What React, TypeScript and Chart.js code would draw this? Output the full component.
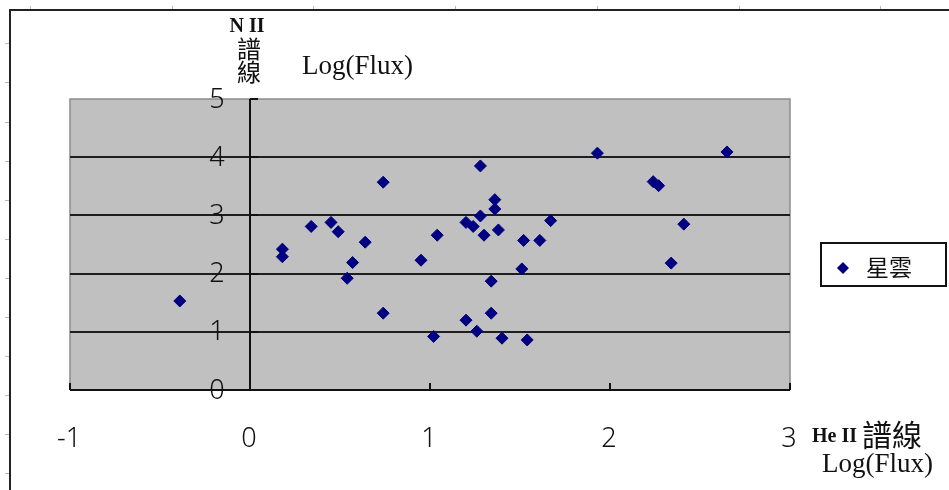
import React, { useEffect, useRef } from 'react';
import { Chart, registerables } from 'chart.js';

Chart.register(...registerables);

// He II line log flux (x) against N II line log flux (y), one entry per nebula
const heIIFlux = [
  -0.39, 0.18, 0.18, 0.34, 0.45, 0.49, 0.64, 0.57, 0.54, 0.74,
  0.74, 0.95, 1.02, 1.04, 1.2, 1.26, 1.28, 1.36, 1.36, 1.28,
  1.2, 1.24, 1.3, 1.38, 1.52, 1.61, 1.67, 1.51, 1.34, 1.34,
  1.4, 1.54, 1.93, 2.24, 2.27, 2.41, 2.34, 2.65,
];
const nIIFlux = [
  1.53, 2.42, 2.29, 2.81, 2.88, 2.72, 2.54, 2.19, 1.92, 3.57,
  1.32, 2.23, 0.92, 2.66, 1.2, 1.01, 3.85, 3.27, 3.11, 2.99,
  2.88, 2.81, 2.66, 2.75, 2.57, 2.57, 2.91, 2.08, 1.87, 1.32,
  0.89, 0.86, 4.07, 3.58, 3.51, 2.85, 2.18, 4.09,
];
const xTickValues = [-1, 0, 1, 2, 3];
const yTickValues = [0, 1, 2, 3, 4, 5];
const seriesName = '星雲';
const yTitleLines = ['N II', '譜', '線'];
const xTitle = ['He II', '譜線'];
const fluxUnit = 'Log(Flux)';

const MARK = '#000080';
const SANS = '"Noto Sans", "DejaVu Sans", sans-serif';
const SERIF = '"Liberation Serif", "DejaVu Serif", serif';
const CJK = '"Noto Sans CJK TC", "Noto Sans CJK SC", sans-serif';

const decorPlugin = {
  id: 'decor',
  beforeDraw(chart: any) {
    const { ctx, chartArea: a, width, height } = chart;
    ctx.save();
    ctx.fillStyle = '#ffffff';
    ctx.fillRect(0, 0, width, height);

    // ruler marks around the embedded object
    ctx.strokeStyle = '#b8b8b8';
    ctx.lineWidth = 1;
    for (let i = 0; i < 7; i++) {
      const x = Math.round(30 + i * 141.7) + 0.5;
      ctx.beginPath();
      ctx.moveTo(x, 6);
      ctx.lineTo(x, 10);
      ctx.stroke();
    }
    for (let i = 0; i < 12; i++) {
      const y = Math.round(43.3 + i * 39.1) + 0.5;
      ctx.beginPath();
      ctx.moveTo(5, y);
      ctx.lineTo(9, y);
      ctx.stroke();
    }
    // object frame
    ctx.strokeStyle = '#222';
    ctx.lineWidth = 2;
    ctx.beginPath();
    ctx.moveTo(width, 10);
    ctx.lineTo(10, 10);
    ctx.lineTo(10, height);
    ctx.stroke();

    // plot area
    ctx.fillStyle = '#c0c0c0';
    ctx.fillRect(a.left, a.top, a.right - a.left, a.bottom - a.top);
    ctx.strokeStyle = '#8c8c8c';
    ctx.lineWidth = 1.5;
    ctx.beginPath();
    ctx.moveTo(a.left, a.bottom);
    ctx.lineTo(a.left, a.top);
    ctx.lineTo(a.right, a.top);
    ctx.lineTo(a.right, a.bottom);
    ctx.stroke();
    ctx.restore();
  },
  beforeDatasetsDraw(chart: any) {
    const { ctx, chartArea: a, scales } = chart;
    const xs = scales.x;
    const ys = scales.y;
    const x0 = Math.round(xs.getPixelForValue(0));
    const y0 = Math.round(ys.getPixelForValue(0));
    ctx.save();
    ctx.strokeStyle = '#111';
    ctx.lineWidth = 2;
    ctx.beginPath();
    ctx.moveTo(a.left, y0);
    ctx.lineTo(a.right, y0);
    ctx.moveTo(x0, a.top);
    ctx.lineTo(x0, a.bottom);
    ctx.stroke();
    // inside tick marks
    for (const v of xTickValues) {
      const x = Math.round(xs.getPixelForValue(v));
      ctx.beginPath();
      ctx.moveTo(x, y0);
      ctx.lineTo(x, y0 - 7);
      ctx.stroke();
    }
    for (const v of yTickValues) {
      const y = Math.round(ys.getPixelForValue(v));
      ctx.beginPath();
      ctx.moveTo(x0, y);
      ctx.lineTo(x0 + 8, y);
      ctx.stroke();
    }
    ctx.restore();
  },
  afterDraw(chart: any) {
    const { ctx, scales } = chart;
    const xs = scales.x;
    const ys = scales.y;
    const x0 = xs.getPixelForValue(0);
    ctx.save();
    ctx.fillStyle = '#111';

    // tick labels
    ctx.font = `300 27px ${SANS}`;
    ctx.textBaseline = 'middle';
    ctx.textAlign = 'center';
    for (const v of yTickValues) {
      ctx.fillText(String(v), x0 - 33, ys.getPixelForValue(v) + 1);
    }
    for (const v of xTickValues) {
      ctx.fillText(String(v), xs.getPixelForValue(v) - 1, 439);
    }

    // y title
    ctx.textBaseline = 'alphabetic';
    ctx.font = `bold 20px ${SERIF}`;
    ctx.fillText(yTitleLines[0], x0 - 3, 32);
    ctx.font = `24px ${CJK}`;
    ctx.textBaseline = 'middle';
    ctx.fillText(yTitleLines[1], x0 - 1, 49);
    ctx.fillText(yTitleLines[2], x0 - 1, 72);
    ctx.textBaseline = 'alphabetic';
    ctx.textAlign = 'left';
    ctx.font = `27px ${SERIF}`;
    ctx.fillText(fluxUnit, 302, 74);

    // x title
    ctx.font = `bold 20px ${SERIF}`;
    ctx.fillText(xTitle[0], 812, 442);
    ctx.font = `30px ${CJK}`;
    ctx.textBaseline = 'middle';
    ctx.fillText(xTitle[1], 862, 435);
    ctx.textBaseline = 'alphabetic';
    ctx.font = `27px ${SERIF}`;
    ctx.fillText(fluxUnit, 822, 472);

    // legend
    const lx = 820, ly = 242, lw = 127, lh = 45;
    ctx.fillStyle = '#ffffff';
    ctx.fillRect(lx, ly, lw, lh);
    ctx.strokeStyle = '#111';
    ctx.lineWidth = 2;
    ctx.strokeRect(lx + 1, ly + 1, lw - 2, lh - 2);
    ctx.fillStyle = MARK;
    ctx.beginPath();
    const cx = 843, cy = 268, r = 6;
    ctx.moveTo(cx - r, cy);
    ctx.lineTo(cx, cy - r);
    ctx.lineTo(cx + r, cy);
    ctx.lineTo(cx, cy + r);
    ctx.closePath();
    ctx.fill();
    ctx.fillStyle = '#111';
    ctx.font = `23px ${CJK}`;
    ctx.textBaseline = 'middle';
    ctx.fillText(seriesName, 866, 267);
    ctx.restore();
  },
};

export default function App() {
  const canvasRef = useRef<HTMLCanvasElement | null>(null);

  useEffect(() => {
    const canvas = canvasRef.current;
    if (!canvas) return;
    const points = heIIFlux.map((x, i) => ({ x, y: nIIFlux[i] }));
    const chart = new Chart(canvas, {
      type: 'scatter',
      data: {
        datasets: [
          {
            label: seriesName,
            data: points,
            pointStyle: 'rectRot',
            pointRadius: 6,
            pointHoverRadius: 6,
            borderWidth: 1,
            backgroundColor: MARK,
            borderColor: MARK,
          },
        ],
      },
      options: {
        animation: false,
        responsive: false,
        maintainAspectRatio: false,
        layout: { padding: { left: 70, top: 99, right: 159, bottom: 100 } },
        plugins: {
          legend: { display: false },
          tooltip: { enabled: false },
        },
        scales: {
          x: {
            type: 'linear',
            min: xTickValues[0],
            max: xTickValues[xTickValues.length - 1],
            ticks: { display: false, stepSize: 1 },
            grid: { display: false },
            border: { display: false },
            afterFit: (s: any) => {
              s.height = 0;
            },
          },
          y: {
            type: 'linear',
            min: yTickValues[0],
            max: yTickValues[yTickValues.length - 1],
            ticks: { display: false, stepSize: 1 },
            grid: {
              drawTicks: false,
              lineWidth: 2,
              color: (c: any) =>
                c.tick && c.tick.value > 0 && c.tick.value < 5 ? '#1e1e1e' : 'rgba(0,0,0,0)',
            },
            border: { display: false },
            afterFit: (s: any) => {
              s.width = 0;
            },
          },
        },
      },
      plugins: [decorPlugin],
    });
    return () => chart.destroy();
  }, []);

  return (
    <div style={{ position: 'absolute', left: 0, top: 0, width: 949, height: 490 }}>
      <canvas ref={canvasRef} width={949} height={490} style={{ width: 949, height: 490, display: 'block' }} />
    </div>
  );
}
